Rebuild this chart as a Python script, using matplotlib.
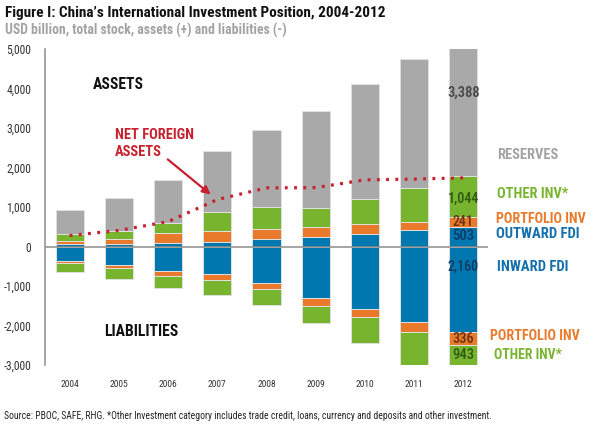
import matplotlib
matplotlib.use("Agg")
import matplotlib.pyplot as plt
from matplotlib import font_manager
import numpy as np

years = ['2004', '2005', '2006', '2007', '2008', '2009', '2010', '2011', '2012']
outward_fdi = [52.7, 64.5, 90.6, 116.0, 185.7, 245.8, 317.2, 424.8, 503]
portfolio_assets = [92.0, 116.7, 255.0, 284.6, 252.5, 242.8, 257.1, 204.4, 241]
other_assets = [165.8, 215.7, 253.9, 468.3, 552.3, 495.2, 630.4, 849.5, 1044]
reserves = [618.9, 825.7, 1080.8, 1546.9, 1966.2, 2453.2, 2914.2, 3255.8, 3388]
inward_fdi = [368.9, 471.5, 614.4, 703.7, 915.5, 1314.8, 1570.0, 1915.0, 2160]
portfolio_liab = [56.6, 76.6, 120.7, 146.6, 167.7, 189.9, 222.0, 248.0, 336]
other_liab = [227.4, 267.5, 315.2, 377.7, 390.0, 441.3, 640.0, 864.0, 943]
yticks = [-3000, -2000, -1000, 0, 1000, 2000, 3000, 4000, 5000]

C_GRAY = '#a9a9a9'
C_GREEN = '#78b52f'
C_ORANGE = '#e97a2b'
C_BLUE = '#0077ae'
C_RED = '#c8202f'

# pick the narrowest available family
available = {f.name for f in font_manager.fontManager.ttflist}
pref = ['Roboto Condensed', 'Liberation Sans Narrow', 'Open Sans Condensed',
        'Roboto', 'Liberation Sans', 'DejaVu Sans']
main_font = next(f for f in pref if f in available)
plt.rcParams['font.family'] = [main_font, 'DejaVu Sans']

fig = plt.figure(figsize=(6.08, 4.32), dpi=100)
ax = fig.add_axes([45/608, 1-365/432, (488-45)/608, (365-49)/432])

x = np.arange(len(years))
w = 0.57
ec = '#e0e0e0'
lw = 0.7

a1 = np.array(outward_fdi)
a2 = np.array(portfolio_assets)
a3 = np.array(other_assets)
a4 = np.array(reserves)
l1 = np.array(inward_fdi)
l2 = np.array(portfolio_liab)
l3 = np.array(other_liab)

ax.bar(x, a1, w, color=C_BLUE, edgecolor=ec, linewidth=lw, zorder=2)
ax.bar(x, a2, w, bottom=a1, color=C_ORANGE, edgecolor=ec, linewidth=lw, zorder=2)
ax.bar(x, a3, w, bottom=a1+a2, color=C_GREEN, edgecolor=ec, linewidth=lw, zorder=2)
ax.bar(x, a4, w, bottom=a1+a2+a3, color=C_GRAY, edgecolor=ec, linewidth=lw, zorder=2)
ax.bar(x, -l1, w, color=C_BLUE, edgecolor=ec, linewidth=lw, zorder=2)
ax.bar(x, -l2, w, bottom=-l1, color=C_ORANGE, edgecolor=ec, linewidth=lw, zorder=2)
ax.bar(x, -l3, w, bottom=-(l1+l2), color=C_GREEN, edgecolor=ec, linewidth=lw, zorder=2)

net = (a1+a2+a3+a4) - (l1+l2+l3)
ax.plot(x, net, color=C_RED, linewidth=2.3, dashes=(0.9, 2.0), zorder=4)

ax.axhline(0, color='#8c8c8c', linewidth=1.1, zorder=3)

ax.set_xlim(-0.5, 8.5)
ax.set_ylim(-3000, 5000)
ax.set_yticks(yticks)
ax.set_yticklabels([f'{v:,}' for v in yticks], fontsize=8.5, color='#333333')
ax.set_xticks(x)
ax.set_xticklabels(years, fontsize=8, color='#333333')
ax.tick_params(axis='both', length=0)
ax.tick_params(axis='y', pad=10)
ax.tick_params(axis='x', pad=11)
for s in ['top', 'right', 'bottom']:
    ax.spines[s].set_visible(False)
ax.spines['left'].set_color('#8c8c8c')
ax.spines['left'].set_linewidth(1.1)

fits = []  # (text, target width px)

lab_kw = dict(ha='center', va='center', fontsize=9.5, fontweight='medium', zorder=5)
fits.append((ax.text(8, 3900, f'{int(reserves[-1]):,}', color='#444444', **lab_kw), 33))
fits.append((ax.text(8, 1200, f'{int(other_assets[-1]):,}', color='#2f5a12', **lab_kw), 31))
fits.append((ax.text(8, 625, f'{int(portfolio_assets[-1]):,}', color='#6a3212', **lab_kw), 21))
fits.append((ax.text(8, 270, f'{int(outward_fdi[-1]):,}', color='#0c3c66', **lab_kw), 22))
fits.append((ax.text(8, -510, f'{int(inward_fdi[-1]):,}', color='#0c3c66', **lab_kw), 31))
fits.append((ax.text(8, -2340, f'{int(portfolio_liab[-1]):,}', color='#6a3212', **lab_kw), 22))
fits.append((ax.text(8, -2745, f'{int(other_liab[-1]):,}', color='#2f5a12', **lab_kw), 22))

rk = dict(ha='left', va='center', fontsize=10, fontweight='bold', clip_on=False)
fits.append((ax.text(8.68, 2316, 'RESERVES', color='#a3a3a3', **rk), 61))
fits.append((ax.text(8.68, 1328, 'OTHER INV*', color=C_GREEN, **rk), 71))
fits.append((ax.text(8.66, 696, 'PORTFOLIO INV', color=C_ORANGE, **rk), 90))
fits.append((ax.text(8.66, 316, 'OUTWARD FDI', color='#1470ad', **rk), 83))
fits.append((ax.text(8.68, -519, 'INWARD FDI', color='#1470ad', **rk), 71))
fits.append((ax.text(8.54, -2264, 'PORTFOLIO INV', color=C_ORANGE, **rk), 90))
fits.append((ax.text(8.62, -2746, 'OTHER INV*', color=C_GREEN, **rk), 68))

fits.append((ax.text(0.47, 4090, 'ASSETS', ha='left', va='center', fontsize=10.5,
                     fontweight='bold', color='#111111'), 51))
fits.append((ax.text(0.71, -2140, 'LIABILITIES', ha='left', va='center', fontsize=10.5,
                     fontweight='bold', color='#111111'), 75))
fits.append((ax.text(0.92, 2600, 'NET FOREIGN\nASSETS', ha='left', va='center', fontsize=10,
                     fontweight='bold', color=C_RED, linespacing=1.25), 79))
ax.annotate('', xy=(2.91, 1270), xytext=(1.95, 2250),
            arrowprops=dict(arrowstyle='-|>', color=C_RED, lw=1.6,
                            mutation_scale=12))

fits.append((fig.text(5/608, 1-13/432, "Figure I: China\u2019s International Investment Position, 2004-2012",
                      ha='left', va='center', fontsize=11.5, fontweight='bold', color='#111111'), 382))
fits.append((fig.text(5/608, 1-30/432, 'USD billion, total stock, assets (+) and liabilities (-)',
                      ha='left', va='center', fontsize=8.5, fontweight='bold', color='#a3a3a3'), 278))
fits.append((fig.text(4/608, 1-416/432,
                      'Source: PBOC, SAFE, RHG. *Other Investment category includes trade credit, loans, currency and deposits and other investment.',
                      ha='left', va='center', fontsize=7, color='#222222'), 485))

# scale font sizes so that text widths match the reference
renderer = fig.canvas.get_renderer()
for t, target in fits:
    wpx = t.get_window_extent(renderer).width
    if wpx > 0:
        t.set_fontsize(t.get_fontsize() * target / wpx)

for lab in ax.get_yticklabels():
    if lab.get_text() == '5,000':
        wpx = lab.get_window_extent(renderer).width
        fs_y = lab.get_fontsize() * 25 / wpx
for lab in ax.get_yticklabels():
    lab.set_fontsize(fs_y)
for lab in ax.get_xticklabels():
    wpx = lab.get_window_extent(renderer).width
    fs_x = lab.get_fontsize() * 19 / wpx
for lab in ax.get_xticklabels():
    lab.set_fontsize(fs_x)

fig.savefig('out.png', dpi=100)
